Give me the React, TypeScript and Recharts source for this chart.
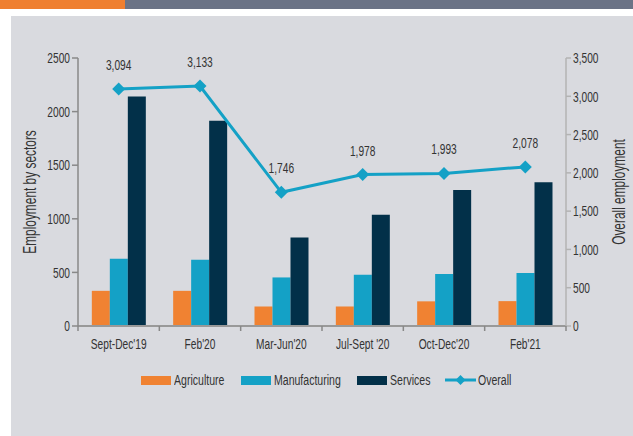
import React from 'react';
import { ComposedChart, Bar, Line, XAxis, YAxis, LabelList, Label } from 'recharts';

const periods = ["Sept-Dec'19", "Feb'20", "Mar-Jun'20", "Jul-Sept '20", "Oct-Dec'20", "Feb'21"];
const agriculture = [328, 328, 182, 182, 230, 232];
const manufacturing = [628, 618, 453, 478, 485, 494];
const services = [2140, 1915, 826, 1038, 1268, 1342];
const overall = [3094, 3133, 1746, 1978, 1993, 2078];

const leftTicks = [0, 500, 1000, 1500, 2000, 2500];
const rightTicks = [0, 500, 1000, 1500, 2000, 2500, 3000, 3500];

const data = periods.map((p, i) => ({
    name: p,
    Agriculture: agriculture[i],
    Manufacturing: manufacturing[i],
    Services: services[i],
    Overall: overall[i],
}));

// no narrow font installed, so squeeze an Arial-like one horizontally
const FONT = '"Liberation Sans", Arial, sans-serif';
const SQ = 0.68;
const TXT = '#333333';
const ORANGE = '#F08232';
const BLUE = '#14A1C6';
const NAVY = '#023049';

const fmt = (v: any) => Number(v).toLocaleString('en-US');

const CText = ({ x, y, anchor = 'middle', size = 15, rotate = 0, dy = '0', children }: any) => (
    <text
        transform={`translate(${x},${y})${rotate ? ` rotate(${rotate})` : ''} scale(${SQ},1)`}
        x={0}
        y={0}
        dy={dy}
        textAnchor={anchor}
        fill={TXT}
        fontSize={size}
        fontFamily={FONT}
    >
        {children}
    </text>
);

const Diamond = (props: any) => {
    const { cx, cy } = props;
    if (cx == null || cy == null) return null;
    const r = 6.5;
    return <polygon points={`${cx},${cy - r} ${cx + r},${cy} ${cx},${cy + r} ${cx - r},${cy}`} fill={BLUE} />;
};

const XTick = (props: any) => {
    const { x, y, payload, index } = props;
    const half = payload.offset ?? 488 / 12;
    return (
        <g>
            <line x1={x - half} y1={y - 8} x2={x - half} y2={y - 3} stroke="#888" strokeWidth={1.5} />
            {index === periods.length - 1 && (
                <line x1={x + half} y1={y - 8} x2={x + half} y2={y - 3} stroke="#888" strokeWidth={1.5} />
            )}
            <CText x={x} y={y + 15}>{payload.value}</CText>
        </g>
    );
};

const LeftTick = (props: any) => {
    const { x, y, payload } = props;
    return <CText x={x} y={y} anchor="end" dy="0.35em">{payload.value}</CText>;
};

const RightTick = (props: any) => {
    const { x, y, payload } = props;
    return <CText x={x} y={y} anchor="start" dy="0.35em">{fmt(payload.value)}</CText>;
};

const PointLabel = (props: any) => {
    const { x, y, value } = props;
    return <CText x={x} y={y - 19}>{fmt(value)}</CText>;
};

const AxisTitle = (props: any) => {
    const { viewBox, value, shift } = props;
    const cx = viewBox.x + viewBox.width / 2 + shift;
    const cy = viewBox.y + viewBox.height / 2;
    return <CText x={cx} y={cy} rotate={-90} size={17.5} dy="0.35em">{value}</CText>;
};

const legendItems = [
    { label: 'Agriculture', color: ORANGE, line: false, left: 141 },
    { label: 'Manufacturing', color: BLUE, line: false, left: 241 },
    { label: 'Services', color: NAVY, line: false, left: 357 },
    { label: 'Overall', color: BLUE, line: true, left: 445 },
];

export default function App() {
    return (
        <div style={{ position: 'absolute', left: 0, top: 0, width: 633, height: 436, background: '#fff', fontFamily: FONT }}>
            <div style={{ position: 'absolute', left: 0, top: 0, width: 125, height: 9, background: '#EF7F30' }} />
            <div style={{ position: 'absolute', left: 125, top: 0, width: 508, height: 9, background: '#6B7386' }} />
            <div style={{ position: 'absolute', left: 11, top: 16, width: 622, height: 420, background: '#D9DADF' }} />
            <div style={{ position: 'absolute', left: 0, top: 0 }}>
                <ComposedChart
                    width={633}
                    height={360}
                    data={data}
                    margin={{ top: 58, right: 20, left: 28, bottom: 4 }}
                    barCategoryGap="17%"
                    barGap={0}
                >
                    <XAxis
                        dataKey="name"
                        height={30}
                        tickLine={false}
                        tick={<XTick />}
                        axisLine={{ stroke: '#999', strokeWidth: 2 }}
                        interval={0}
                    />
                    <YAxis
                        yAxisId="left"
                        width={50}
                        domain={[0, 2500]}
                        ticks={leftTicks}
                        tick={<LeftTick />}
                        axisLine={{ stroke: '#888', strokeWidth: 1.5 }}
                        tickLine={{ stroke: '#888', strokeWidth: 1.5 }}
                        tickSize={6}
                    >
                        <Label value="Employment by sectors" content={<AxisTitle shift={-23} />} />
                    </YAxis>
                    <YAxis
                        yAxisId="right"
                        orientation="right"
                        width={47}
                        domain={[0, 3500]}
                        ticks={rightTicks}
                        tick={<RightTick />}
                        axisLine={{ stroke: '#B3B3B3', strokeWidth: 1.5 }}
                        tickLine={{ stroke: '#B3B3B3', strokeWidth: 1.5 }}
                        tickSize={5}
                    >
                        <Label value="Overall employment" content={<AxisTitle shift={29} />} />
                    </YAxis>
                    <Bar yAxisId="left" dataKey="Agriculture" fill={ORANGE} isAnimationActive={false} />
                    <Bar yAxisId="left" dataKey="Manufacturing" fill={BLUE} isAnimationActive={false} />
                    <Bar yAxisId="left" dataKey="Services" fill={NAVY} isAnimationActive={false} />
                    <Line
                        yAxisId="right"
                        dataKey="Overall"
                        stroke={BLUE}
                        strokeWidth={3}
                        dot={<Diamond />}
                        activeDot={false}
                        isAnimationActive={false}
                    >
                        <LabelList dataKey="Overall" content={<PointLabel />} />
                    </Line>
                </ComposedChart>
            </div>
            {legendItems.map((it) => (
                <div
                    key={it.label}
                    style={{
                        position: 'absolute',
                        left: it.left,
                        top: 371,
                        display: 'flex',
                        alignItems: 'center',
                        whiteSpace: 'nowrap',
                    }}
                >
                    {it.line ? (
                        <svg width={31} height={10} style={{ marginRight: 2 }}>
                            <line x1={0} y1={5} x2={31} y2={5} stroke={it.color} strokeWidth={3} />
                            <polygon points="15.5,0 20.5,5 15.5,10 10.5,5" fill={it.color} />
                        </svg>
                    ) : (
                        <div style={{ width: 30, height: 9, background: it.color, marginRight: 3 }} />
                    )}
                    <span
                        style={{
                            display: 'inline-block',
                            fontSize: 15.5,
                            color: TXT,
                            transform: `scaleX(${SQ})`,
                            transformOrigin: 'left center',
                        }}
                    >
                        {it.label}
                    </span>
                </div>
            ))}
        </div>
    );
}
